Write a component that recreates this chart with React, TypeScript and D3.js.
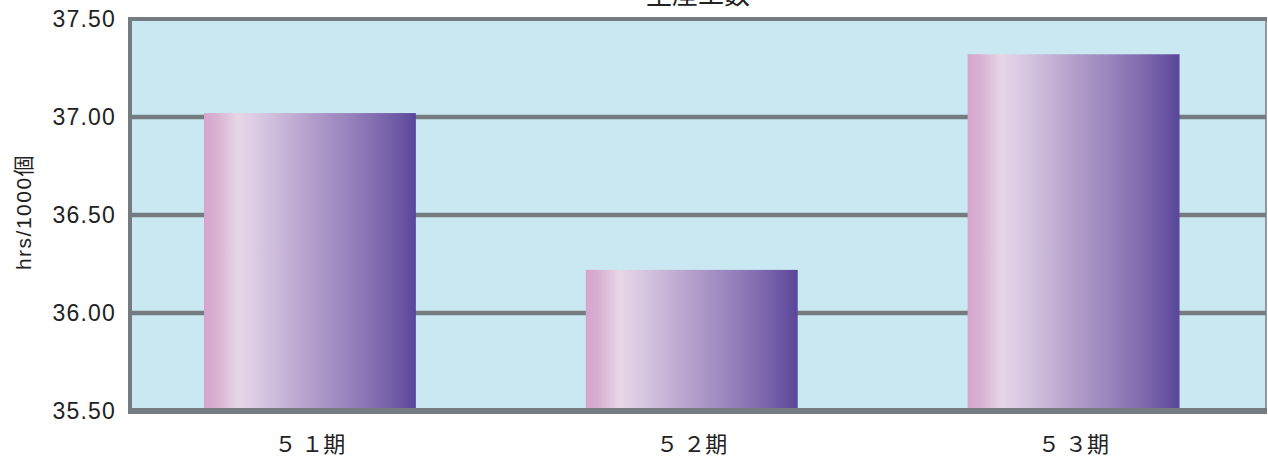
import React from "react";
import * as d3 from "d3";

const categories = ["５ １期", "５ ２期", "５ ３期"];
const values = [37.02, 36.22, 37.32];
const yTicks = [35.5, 36.0, 36.5, 37.0, 37.5];
const gridValues = [36.0, 36.5, 37.0];
const title = "生産工数";
const yLabel = "hrs/1000個";

const W = 1268;
const H = 458;

export default function App() {
  const y = d3.scaleLinear().domain([35.5, 37.5]).range([411, 19]);
  const x = d3
    .scaleBand<string>()
    .domain(categories)
    .range([119, 1264.5])
    .paddingInner(0.445)
    .paddingOuter(0.2225);
  const border = "#747b81";
  const left = 130;
  const right = 1266;
  const top = y(37.5);
  const bottom = y(35.5);
  return (
    <svg
      width={W}
      height={H}
      style={{ position: "absolute", left: 0, top: 0, display: "block" }}
    >
      <defs>
        <linearGradient id="barGrad" x1="0" x2="1" y1="0" y2="0">
          <stop offset="0" stopColor="#d4a5cb" />
          <stop offset="0.06" stopColor="#d9b0d2" />
          <stop offset="0.16" stopColor="#e7d6e8" />
          <stop offset="0.3" stopColor="#d3c2de" />
          <stop offset="0.5" stopColor="#b49fcb" />
          <stop offset="0.7" stopColor="#9580bb" />
          <stop offset="0.88" stopColor="#7460a8" />
          <stop offset="1" stopColor="#5a4699" />
        </linearGradient>
      </defs>
      <rect x={left} y={top} width={right - left} height={bottom - top} fill="#cae8f2" />
      {gridValues.map((v) => (
        <line key={v} x1={left} x2={right} y1={y(v)} y2={y(v)} stroke={border} strokeWidth={4.5} />
      ))}
      {categories.map((c, i) => (
        <rect
          key={c}
          x={x(c)}
          y={y(values[i])}
          width={x.bandwidth()}
          height={bottom - y(values[i])}
          fill="url(#barGrad)"
        />
      ))}
      <line x1={left} x2={1267} y1={top} y2={top} stroke={border} strokeWidth={4} />
      <line x1={left} x2={left} y1={top - 2} y2={bottom + 3} stroke={border} strokeWidth={4} />
      <line x1={left - 2} x2={1267} y1={bottom} y2={bottom} stroke={border} strokeWidth={6} />
      <line x1={right} x2={right} y1={top} y2={bottom} stroke={border} strokeWidth={1.5} />
      {yTicks.map((t) => (
        <text
          key={t}
          x={116}
          y={y(t)}
          dy="0.35em"
          textAnchor="end"
          fontFamily="'Liberation Sans', Arial, sans-serif"
          fontSize={23}
          letterSpacing={1.2}
          fill="#222"
        >
          {t.toFixed(2)}
        </text>
      ))}
      {categories.map((c) => (
        <text
          key={c}
          x={(x(c) as number) + x.bandwidth() / 2}
          y={452}
          textAnchor="middle"
          fontFamily="'Noto Sans CJK JP', sans-serif"
          fontSize={22}
          fill="#222"
        >
          {c}
        </text>
      ))}
      <text
        x={698}
        y={4}
        textAnchor="middle"
        fontFamily="'Noto Sans CJK JP', sans-serif"
        fontSize={26}
        fill="#222"
      >
        {title}
      </text>
      <text
        transform={`translate(31,212) rotate(-90)`}
        textAnchor="middle"
        fontFamily="'Liberation Sans', 'Noto Sans CJK JP', sans-serif"
        fontSize={21}
        letterSpacing={1.5}
        fill="#222"
      >
        {yLabel}
      </text>
    </svg>
  );
}
